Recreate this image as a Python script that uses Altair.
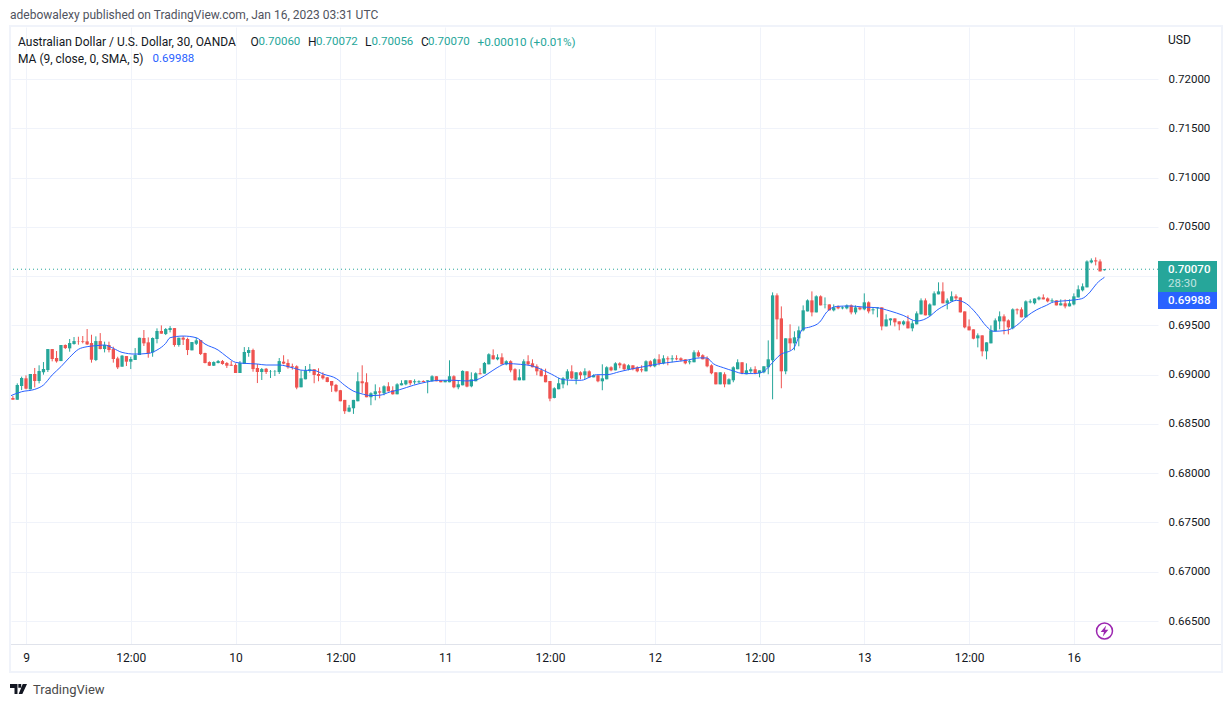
import altair as alt
import pandas as pd

# Candle prices in units of 0.00001, first candle is 3 bars before "9"
opens = [
68763,68746,68885,68963,68851,69007,68936,69024,69047,69260,69169,69138,69301,69267,69311,69338,69338,69338,69321,69149,
69341,69260,69301,69260,69165,69081,69189,69132,69149,69199,69372,69328,69226,69362,69443,69412,69453,69473,69301,69375,
69362,69247,69314,69351,69220,69128,69091,69118,69138,69118,69101,69098,69017,69108,69220,69250,69068,69027,69061,69034,
69034,69027,
69132,69119,69085,69085,68872,68953,69038,69055,69007,68994,68973,68936,68896,68842,68744,68625,68659,68730,68933,68923,
68771,68801,68831,68811,68882,68842,68801,68892,68902,68943,68923,68923,68936,68933,68933,68984,68943,68923,68923,68984,
68872,68892,69034,68882,68933,69014,69011,69105,69197,69156,69176,69105,69136,69055,68943,68943,69136,69115,69085,69044,
68997,68936,68764,68852,68902,68957,69034,68953,69024,68994,69034,68973,68994,68933,68953,69075,69044,69115,69105,69055,
69095,69075,69055,69034,69136,69085,69156,69115,69166,69156,69166,69166,69156,69126,69126,69227,69197,69166,69095,69024,
68902,69004,68902,68943,69055,69126,69004,69034,69055,69014,
69024,69075,69146,69805,69571,69034,69369,69318,69369,69450,69642,69754,69632,69795,69710,69713,69653,69693,69673,69673,
69703,69632,69683,69663,69734,69653,69673,69683,69490,69551,69571,69541,69511,69541,69470,69511,69612,69754,69602,69703,
69815,69845,69724,69744,69795,69784,69642,69490,69460,69369,69399,69237,69318,69440,69541,69592,69551,69470,69663,69663,
69582,69734,69724,69764,69784,69774,69744,69754,69703,69724,69693,69713,69784,69856,69886,70139,70160,70149,70060]
highs = [
68784,68912,68980,68993,69007,69068,69095,69128,69260,69260,69240,69301,69307,69362,69382,69385,69392,69463,69405,69389,
69422,69335,69335,69284,69182,69199,69189,69182,69270,69375,69453,69378,69378,69470,69500,69473,69493,69473,69375,69392,
69375,69331,69375,69351,69223,69135,69135,69149,69149,69128,69138,69115,69138,69280,69280,69264,69108,69068,69068,69047,
69047,69169,
69197,69156,69112,69095,69044,69088,69109,69055,69065,69024,68977,68936,68906,68845,68744,68693,68744,69024,69095,69014,
68821,68902,68872,68892,68923,68882,68913,68943,68943,68943,68953,68943,68943,68943,68994,68984,68943,68943,69146,68994,
68943,69044,69034,69024,69024,69065,69129,69217,69257,69207,69217,69146,69146,69065,69055,69156,69197,69156,69105,69065,
69061,68936,68872,68967,68977,69055,69095,69024,69034,69065,69044,69004,68994,69105,69085,69085,69126,69126,69115,69105,
69095,69085,69095,69146,69146,69166,69207,69197,69186,69197,69197,69176,69156,69156,69247,69247,69207,69186,69105,69024,
69024,69024,68963,69085,69156,69126,69115,69075,69085,69044,
69085,69348,69835,69825,69693,69369,69511,69440,69490,69703,69764,69845,69805,69805,69784,69713,69713,69703,69693,69713,
69713,69703,69683,69825,69744,69683,69683,69683,69612,69571,69571,69541,69551,69602,69551,69642,69774,69774,69724,69845,
69937,69937,69774,69845,69815,69784,69642,69561,69460,69419,69399,69328,69500,69571,69642,69612,69561,69673,69673,69683,
69754,69764,69774,69795,69815,69784,69774,69754,69764,69764,69764,69825,69906,69926,70160,70180,70190,70170,70072]
lows = [
68746,68746,68844,68851,68851,68871,68912,69000,69027,69135,69122,69138,69260,69233,69304,69304,69318,69301,69122,69138,
69257,69226,69226,69122,69057,69081,69088,69057,69149,69199,69291,69172,69182,69318,69416,69402,69429,69284,69284,69301,
69199,69247,69301,69199,69115,69088,69088,69115,69101,69068,69088,69017,69017,69108,69182,69030,68915,68946,69007,68966,
68986,69007,
69105,69061,69051,68852,68872,68953,69021,68913,68933,68950,68923,68825,68821,68730,68602,68619,68602,68730,68815,68771,
68690,68740,68760,68791,68831,68798,68801,68892,68892,68892,68902,68913,68923,68811,68933,68933,68923,68923,68923,68862,
68852,68892,68872,68872,68933,69004,69011,69105,69153,69146,69105,69095,69024,68943,68943,68943,69095,69075,68994,68984,
68923,68730,68760,68852,68862,68892,68953,68902,68953,68953,68973,68973,68923,68842,68953,69034,69044,69065,69044,69044,
69044,69024,69024,69034,69075,69075,69095,69105,69095,69126,69146,69136,69105,69105,69126,69176,69156,69075,69004,68902,
68902,68872,68902,68923,69055,69004,69004,69014,69004,68973,
69014,69004,68750,69359,68862,69004,69247,69247,69288,69440,69642,69592,69632,69703,69673,69653,69642,69663,69663,69663,
69612,69612,69653,69653,69622,69612,69582,69450,69490,69500,69490,69450,69500,69470,69440,69511,69612,69602,69592,69703,
69815,69724,69663,69744,69754,69632,69470,69450,69359,69277,69186,69156,69318,69440,69460,69409,69409,69460,69612,69582,
69582,69724,69713,69754,69764,69734,69734,69703,69703,69673,69693,69703,69784,69845,69886,70129,70109,70048,70056]
closes = [
68746,68895,68966,68858,69007,68936,69037,69057,69260,69159,69135,69301,69270,69321,69341,69335,69331,69307,69152,69341,
69260,69301,69250,69159,69074,69193,69132,69159,69199,69375,69318,69216,69372,69443,69416,69463,69473,69301,69375,69355,
69250,69331,69348,69209,69118,69091,69128,69138,69108,69091,69091,69017,69118,69230,69250,69057,69027,69057,69027,69037,
69037,69138,
69112,69075,69078,68869,68963,69044,69055,68997,68987,68963,68926,68889,68831,68730,68629,68666,68744,68933,68913,68771,
68811,68831,68818,68882,68831,68801,68902,68913,68943,68913,68933,68933,68926,68943,68984,68933,68923,68943,68984,68872,
68902,69038,68879,68953,69014,69004,69119,69207,69156,69176,69105,69136,69044,68943,68973,69136,69105,69075,69034,68984,
68923,68757,68862,68913,68963,69034,68963,69024,68994,69034,68973,68994,68933,68963,69075,69044,69115,69095,69055,69095,
69055,69034,69044,69136,69085,69156,69115,69166,69156,69166,69156,69146,69115,69136,69227,69186,69156,69085,69014,68902,
69024,68902,68953,69075,69126,69014,69044,69055,69014,69044,
69085,69156,69805,69561,69034,69369,69318,69379,69450,69653,69754,69632,69795,69703,69713,69653,69683,69673,69683,69703,
69632,69683,69663,69734,69642,69663,69683,69490,69561,69571,69531,69511,69541,69470,69521,69622,69754,69602,69713,69825,
69845,69724,69754,69795,69774,69632,69480,69450,69365,69399,69237,69328,69450,69551,69592,69541,69480,69663,69653,69582,
69744,69744,69774,69784,69764,69744,69754,69703,69724,69693,69724,69795,69866,69896,70149,70160,70149,70048,70070]

# Moving-average line: bar position, price in 0.00001
ma_pos = [-4,-1,2,4,6,8,10,12,14,16,18,20,22,25,28,30,32,33,36,39,41,44,46,48,50,53,55,58,
61.2,63.5,65.8,68.2,71.1,73,74.9,76.7,79,81,83.4,85.6,88.7,91.8,94.9,98,101,103.3,105.6,107.9,110.1,113.2,116.2,118.5,120.4,
123,125.3,127.2,129.2,130.7,133,136,139,142,145.2,148.2,151.3,154.3,155.9,157.4,159.7,162,164.3,166.6,168.8,170.4,
172.7,175.7,178,179.6,181.8,183.4,185.7,188.7,191.8,194.8,197.9,200.9,204,207,208.6,210.8,213.1,215.4,217.7,220,221.5,
224.6,226.9,229.2,231.5,233.7,235.3,239.1,241.8,243.7,245.2,247]
ma_val = [68777,68827,68851,68895,68997,69081,69176,69257,69284,69294,69301,69267,69226,69209,69216,69250,69318,69375,69392,69375,69311,69250,69182,69125,69115,69108,69098,69098,
69068,69044,69044,69004,68960,68892,68835,68808,68788,68791,68825,68848,68892,68926,68943,68943,68936,68950,69004,69071,69112,69105,69085,69044,69004,
68950,68943,68943,68977,69000,69000,69031,69061,69085,69112,69129,69146,69170,69170,69112,69071,69038,69011,69011,69028,69095,
69200,69261,69467,69484,69534,69636,69693,69697,69686,69680,69646,69602,69544,69592,69653,69710,69754,69720,69619,69490,69440,
69450,69500,69592,69659,69703,69737,69754,69771,69838,69923,69988]

time_ticks = [0,24,48,72,96,120,144,168,192,216,240]
time_labels = ["9","12:00","10","12:00","11","12:00","12","12:00","13","12:00","16"]
price_ticks = [0.665,0.67,0.675,0.68,0.685,0.69,0.695,0.70,0.705,0.71,0.715,0.72]
last_close = 0.70070

GREEN = "#26a69a"; RED = "#ef5350"; BLUE = "#2962ff"; INK = "#131722"; GRID = "#f0f3fa"
FONT = "Roboto"
OX, OY = 11, 27       # plot origin in page pixels
W, H = 1147, 617

n = len(opens)
df = pd.DataFrame({
    "i": list(range(-3, n - 3)),
    "o": [v / 1e5 for v in opens], "h": [v / 1e5 for v in highs],
    "l": [v / 1e5 for v in lows], "c": [v / 1e5 for v in closes]})
df["dir"] = ["up" if c >= o else "down" for o, c in zip(df.o, df.c)]
ma = pd.DataFrame({"i": ma_pos, "v": [v / 1e5 for v in ma_val]})

label_map = "{" + ",".join(f"'{p}':'{t}'" for p, t in zip(time_ticks, time_labels)) + "}"
xs = alt.Scale(domain=[-3.436, 259.27], nice=False, zero=False, padding=0)
ys = alt.Scale(domain=[0.66267, 0.72528], nice=False, zero=False)
xax = alt.X("i:Q", scale=xs, title=None, axis=alt.Axis(
    values=time_ticks, labelExpr=label_map + "[''+datum.value]", grid=True, gridColor=GRID,
    domain=False, ticks=False, labelFont=FONT, labelFontSize=12, labelColor=INK,
    labelPadding=8, labelFlush=False, labelOverlap=False))
# the 0.70000 label sits behind the last-price tag in the reference, so it is left blank
yax = alt.Y("h:Q", scale=ys, title=None, axis=alt.Axis(
    orient="right", values=price_ticks,
    labelExpr="abs(datum.value-0.7)<0.00001 ? '' : format(datum.value,'.5f')", grid=True, gridColor=GRID,
    domain=False, ticks=False, labelFont=FONT, labelFontSize=11.5, labelColor=INK,
    labelPadding=10, labelOverlap=False))
color = alt.Color("dir:N", scale=alt.Scale(domain=["up", "down"], range=[GREEN, RED]), legend=None)

base = alt.Chart(df)
wicks = base.mark_rule(strokeWidth=1, clip=True).encode(x=xax, y=yax, y2="l:Q", color=color)
bodies = base.mark_bar(size=3.3, clip=True).encode(
    x=alt.X("i:Q", scale=xs), y=alt.Y("o:Q", scale=ys), y2="c:Q", color=color)
ma_line = alt.Chart(ma).mark_line(color=BLUE, strokeWidth=1, clip=True, interpolate="monotone").encode(
    x=alt.X("i:Q", scale=xs), y=alt.Y("v:Q", scale=ys))
last_rule = alt.Chart(pd.DataFrame({"p": [last_close]})).mark_rule(
    color=GREEN, strokeWidth=1, strokeDash=[1, 3]).encode(y=alt.Y("p:Q", scale=ys))

one = pd.DataFrame({"a": [0]})
def text(s, px, py, col=INK, size=12, weight="normal", op=1.0):
    return alt.Chart(one).mark_text(text=s, align="left", baseline="middle", color=col, font=FONT,
                                    fontSize=size, fontWeight=weight, opacity=op).encode(
        x=alt.value(px - OX), y=alt.value(py - OY))
def box(x0, y0, x1, y1, fill=None, stroke=None, sw=0):
    kw = {"fill": fill} if fill else {"fillOpacity": 0}
    if stroke:
        kw.update(stroke=stroke, strokeWidth=sw)
    return alt.Chart(one).mark_rect(**kw).encode(
        x=alt.value(x0 - OX), x2=alt.value(x1 - OX), y=alt.value(y0 - OY), y2=alt.value(y1 - OY))
def hline(x0, x1, py, col):
    return alt.Chart(one).mark_rule(color=col, strokeWidth=1).encode(
        x=alt.value(x0 - OX), x2=alt.value(x1 - OX), y=alt.value(py - OY))
def glyph(path, px, py, size, col):
    return alt.Chart(one).mark_point(shape=path, size=size, filled=True, color=col, opacity=1).encode(
        x=alt.value(px - OX), y=alt.value(py - OY))

PURPLE = "#9c27b0"
decor = [
    box(10, 26, 1222, 672, stroke=GRID, sw=2),
    hline(11, 1221, 644.5, "#e0e3eb"),
    text("adebowalexy published on TradingView.com, Jan 16, 2023 03:31 UTC", 10, 15, "#50535e"),
    text("Australian Dollar / U.S. Dollar, 30, OANDA", 18, 42),
    text("O", 250.5, 42), text("0.70060", 258.5, 42, GREEN, size=11.5),
    text("H", 308, 42), text("0.70072", 316, 42, GREEN, size=11.5),
    text("L", 365, 42), text("0.70056", 371.5, 42, GREEN, size=11.5),
    text("C", 421, 42), text("0.70070", 428, 42, GREEN, size=11.5),
    text("+0.00010 (+0.01%)", 477.5, 42, GREEN, size=11.7),
    text("MA (9, close, 0, SMA, 5)", 18, 59),
    text("0.69988", 152.5, 59, BLUE, size=11.5),
    text("USD", 1168, 40),
    box(1158, 261, 1217, 292, fill=GREEN),
    box(1158, 292, 1217, 309, fill=BLUE),
    text("0.70070", 1168, 269.5, "#ffffff", size=11.5, weight=500),
    text("28:30", 1168, 284, "#ffffff", size=11.5, op=0.7),
    text("0.69988", 1168, 301, "#ffffff", size=11.5, weight=500),
    alt.Chart(one).mark_point(shape="circle", size=254, filled=False, color=PURPLE, strokeWidth=1.5, opacity=1).encode(
        x=alt.value(1104.5 - OX), y=alt.value(631 - OY)),
    glyph("M0.3,-1 L-0.7,0.2 L-0.1,0.2 L-0.3,1 L0.7,-0.25 L0.1,-0.25 Z", 1104.5, 631, 121, PURPLE),
    glyph("M-1,-0.6 L-0.12,-0.6 L-0.12,0.6 L-0.47,0.6 L-0.47,-0.12 L-1,-0.12 Z "
          "M-0.02,-0.6 L0.32,-0.6 L0.32,-0.15 L-0.02,-0.15 Z "
          "M1,-0.6 L0.45,0.6 L0.02,0.6 L0.5,-0.6 Z", 18.5, 689, 289, "#131722"),
    text("TradingView", 33, 689.5, "#4a4a4a", size=13),
]

chart = alt.layer(wicks, bodies, ma_line, last_rule, *decor).resolve_scale(
    x="shared", y="shared"
).properties(
    width=W, height=H, background="#ffffff",
    padding={"left": OX - 8, "top": OY - 8, "right": 1224 - OX - W, "bottom": 691 + 8 - OY - H},
    autosize=alt.AutoSizeParams(type="none"),
).configure_view(stroke=None)

chart.save("out.html", embed_options={"renderer": "svg", "actions": False})
